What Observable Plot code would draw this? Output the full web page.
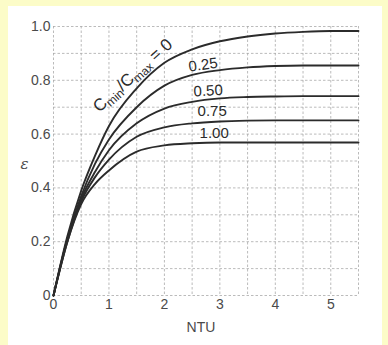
<!DOCTYPE html>
<html>
<head>
<meta charset="utf-8">
<script src="https://cdn.jsdelivr.net/npm/d3@7"></script>
<script src="https://cdn.jsdelivr.net/npm/@observablehq/plot@0.6"></script>
<style>
  html, body { margin: 0; padding: 0; }
  body { width: 388px; height: 345px; background: #fcfcc8; position: relative; overflow: hidden; }
  #panel { position: absolute; left: 8px; top: 6px; width: 374px; height: 339px; background: #ffffff; }
  #chart { position: absolute; left: 0; top: 0; }
</style>
</head>
<body>
<div id="panel"></div>
<div id="chart"></div>
<script>
// NTU sample positions
const ntu = [0, 0.25, 0.5, 0.75, 1, 1.5, 2, 2.5, 3, 3.5, 4, 4.5, 5, 5.5];
// effectiveness read for each Cmin/Cmax curve
const eps000 = [0, 0.22, 0.39, 0.52, 0.63, 0.77, 0.865, 0.915, 0.945, 0.963, 0.974, 0.980, 0.983, 0.983];
const eps025 = [0, 0.21, 0.37, 0.49, 0.58, 0.70, 0.78, 0.82, 0.838, 0.848, 0.853, 0.855, 0.855, 0.855];
const eps050 = [0, 0.21, 0.36, 0.46, 0.54, 0.64, 0.695, 0.72, 0.733, 0.738, 0.740, 0.741, 0.741, 0.741];
const eps075 = [0, 0.20, 0.35, 0.44, 0.505, 0.59, 0.625, 0.64, 0.647, 0.650, 0.651, 0.651, 0.651, 0.651];
const eps100 = [0, 0.20, 0.34, 0.415, 0.465, 0.535, 0.558, 0.566, 0.569, 0.569, 0.569, 0.569, 0.569, 0.569];
const ratioLabels = ["0", "0.25", "0.50", "0.75", "1.00"];
const xTicks = [0, 1, 2, 3, 4, 5];
const yTicks = [0, 0.2, 0.4, 0.6, 0.8, 1.0];
const xGrid = [0, 0.5, 1, 1.5, 2, 2.5, 3, 3.5, 4, 4.5, 5, 5.5];
const yGrid = [0, 0.1, 0.2, 0.3, 0.4, 0.5, 0.6, 0.7, 0.8, 0.9, 1.0];

const series = [eps000, eps025, eps050, eps075, eps100];
const rows = [];
series.forEach((vals, i) => {
  vals.forEach((v, j) => rows.push({ntu: ntu[j], eps: v, ratio: ratioLabels[i]}));
});

const ink = "#2b2b2b";
const labelAt = (r, dx, dy, rotate) => Plot.text(rows, {
  filter: d => d.ratio === r && d.ntu === 2.5,
  x: "ntu", y: "eps", text: "ratio", dx, dy, rotate,
  fill: ink, fontSize: 15
});

const plot = Plot.plot({
  width: 388,
  height: 345,
  marginLeft: 53,
  marginRight: 30,
  marginTop: 26,
  marginBottom: 50,
  style: {fontFamily: "'Liberation Sans', Arial, sans-serif", fontSize: "14px", color: "#4a4a4a", background: "transparent", overflow: "visible"},
  x: {domain: [0, 5.5]},
  y: {domain: [0, 1]},
  marks: [
    Plot.gridX(xGrid, {stroke: "#aaaaaa", strokeOpacity: 1, strokeDasharray: "2.5,2", strokeWidth: 0.8}),
    Plot.gridY(yGrid, {stroke: "#aaaaaa", strokeOpacity: 1, strokeDasharray: "2.5,2", strokeWidth: 0.8}),
    Plot.axisX(xTicks, {tickSize: 0, tickPadding: 4, label: null}),
    Plot.axisY(yTicks, {tickSize: 0, tickPadding: 3, label: null, tickFormat: d => d === 0 ? "0" : d.toFixed(1)}),
    Plot.line(rows, {x: "ntu", y: "eps", z: "ratio", curve: "monotone-x", stroke: ink, strokeWidth: 1.9}),
    Plot.text(["NTU"], {frameAnchor: "bottom", dx: -5, dy: 36, fill: "#4a4a4a", fontSize: 14}),
    Plot.text(["\u03b5"], {frameAnchor: "left", dx: -33, dy: 3, fill: "#4a4a4a", fontSize: 15, fontFamily: "'DejaVu Serif', serif", fontStyle: "italic"}),
    Plot.text(rows, {filter: d => d.ratio === "0" && d.ntu === 1.5, x: "ntu", y: "eps", text: d => "Cmin/Cmax = 0", dx: -4, dy: -13, rotate: -42, fill: ink, fontSize: 17}),
    labelAt("0.25", 11, -10, -8),
    labelAt("0.50", 16, -11, -3),
    labelAt("0.75", 20, -12, 0),
    labelAt("1.00", 22, -10, 0)
  ]
});

document.getElementById("chart").appendChild(plot);

// typeset subscripts in the ratio label
plot.querySelectorAll("text").forEach(t => {
  if (t.textContent === "Cmin/Cmax = 0") {
    t.innerHTML = 'C<tspan font-size="12" dy="3.5">min</tspan><tspan dy="-3.5">/C</tspan><tspan font-size="12" dy="3.5">max</tspan><tspan dy="-3.5"> = 0</tspan>';
  }
});
</script>
</body>
</html>
